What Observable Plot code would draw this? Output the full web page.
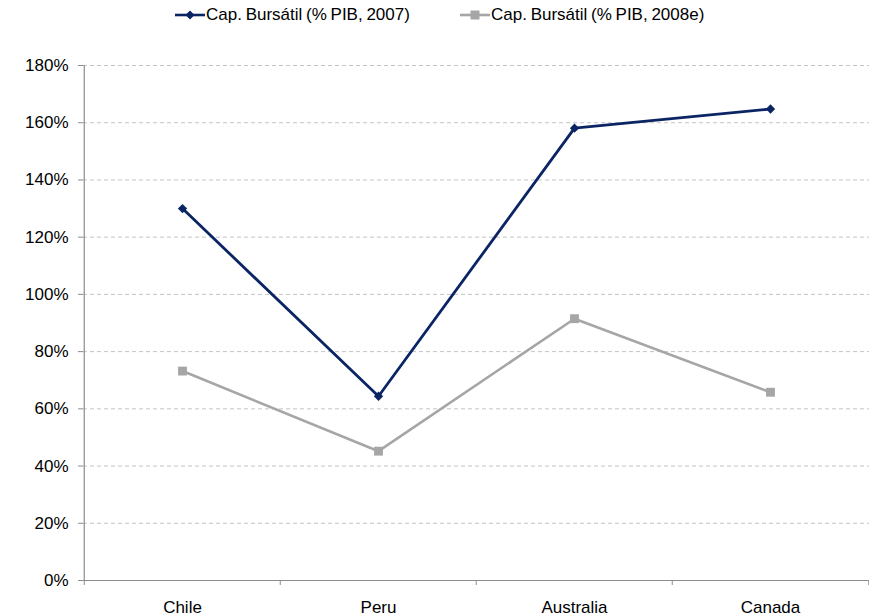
<!DOCTYPE html>
<html>
<head>
<meta charset="utf-8">
<script src="https://cdn.jsdelivr.net/npm/d3@7"></script>
<script src="https://cdn.jsdelivr.net/npm/@observablehq/plot@0.6"></script>
<style>
  html, body { margin: 0; padding: 0; background: #fff; }
  body { width: 869px; height: 616px; overflow: hidden; font-family: "Liberation Sans", Arial, sans-serif; }
  #legend { height: 30px; position: relative; font-size: 17px; color: #000; }
  .item { position: absolute; top: 0; height: 30px; display: flex; align-items: center; word-spacing: -1px; white-space: nowrap; }
  .item svg { display: block; }
  #chart svg { display: block; overflow: visible; }
</style>
</head>
<body>
<div id="legend"></div>
<div id="chart"></div>
<script>
const categories = ["Chile", "Peru", "Australia", "Canada"];
const cap2007 = [130, 64.4, 158.1, 164.8];
const cap2008e = [73.2, 45.2, 91.5, 65.8];
const seriesNames = ["Cap. Bursátil (% PIB, 2007)", "Cap. Bursátil (% PIB, 2008e)"];
const yTicks = [0, 20, 40, 60, 80, 100, 120, 140, 160, 180];

const navy = "#0b2464";
const gray = "#a6a6a6";
const axisColor = "#8c8c8c";

const diamond = {
  draw(ctx, size) {
    const s = Math.sqrt(size / 2);
    ctx.moveTo(0, -s); ctx.lineTo(s, 0); ctx.lineTo(0, s); ctx.lineTo(-s, 0); ctx.closePath();
  }
};

const data = [
  ...categories.map((c, i) => ({cat: c, value: cap2007[i], series: seriesNames[0]})),
  ...categories.map((c, i) => ({cat: c, value: cap2008e[i], series: seriesNames[1]}))
];
const s07 = data.filter(d => d.series === seriesNames[0]);
const s08 = data.filter(d => d.series === seriesNames[1]);

const W = 869, mL = 83, mR = 0;
const step = (W - mL - mR) / categories.length;

const chart = Plot.plot({
  width: W,
  height: 586,
  marginTop: 35,
  marginBottom: 36,
  marginLeft: mL,
  marginRight: mR,
  style: {fontFamily: "'Liberation Sans', Arial, sans-serif", fontSize: "17px", color: "#000", background: "#fff"},
  x: {domain: categories, type: "band", padding: 0},
  y: {domain: [0, 180]},
  marks: [
    Plot.gridY(yTicks.filter(t => t > 0), {stroke: "#c4c4c4", strokeOpacity: 1, strokeDasharray: "4,3", strokeWidth: 1}),
    Plot.axisY({ticks: yTicks, tickSize: 5, tickPadding: 10, tickFormat: d => d + "%", stroke: axisColor, fill: "#000", label: null, fontSize: 17}),
    Plot.axisX({tickSize: 0, tickPadding: 20, label: null, fill: "#000", fontSize: 17}),
    Plot.ruleY([0], {stroke: axisColor, strokeWidth: 1.2}),
    Plot.ruleX([categories[0]], {x: d => d, dx: -step / 2, y1: 0, y2: yTicks[yTicks.length - 1], stroke: axisColor, strokeWidth: 1.2}),
    Plot.ruleX(categories, {x: d => d, dx: -step / 2, y1: 0, y2: 0, insetBottom: -5, stroke: axisColor}),
    Plot.ruleX([categories[categories.length - 1]], {x: d => d, dx: step / 2, y1: 0, y2: 0, insetBottom: -5, stroke: axisColor}),
    Plot.line(s08, {x: "cat", y: "value", stroke: gray, strokeWidth: 2.6}),
    Plot.dot(s08, {x: "cat", y: "value", symbol: "square", r: 5, fill: gray, stroke: "none"}),
    Plot.line(s07, {x: "cat", y: "value", stroke: navy, strokeWidth: 2.8}),
    Plot.dot(s07, {x: "cat", y: "value", symbol: diamond, r: 3.7, fill: navy, stroke: "none"})
  ]
});
document.getElementById("chart").appendChild(chart);

// Legend
const legend = document.getElementById("legend");
const items = [
  {name: seriesNames[0], color: navy, marker: "diamond", left: 175},
  {name: seriesNames[1], color: gray, marker: "square", left: 460}
];
for (const it of items) {
  const div = document.createElement("div");
  div.className = "item";
  div.style.left = it.left + "px";
  const ns = "http://www.w3.org/2000/svg";
  const sw = document.createElementNS(ns, "svg");
  sw.setAttribute("width", 30); sw.setAttribute("height", 12);
  const ln = document.createElementNS(ns, "line");
  ln.setAttribute("x1", 0); ln.setAttribute("x2", 30); ln.setAttribute("y1", 6); ln.setAttribute("y2", 6);
  ln.setAttribute("stroke", it.color); ln.setAttribute("stroke-width", 2.6);
  sw.appendChild(ln);
  if (it.marker === "diamond") {
    const p = document.createElementNS(ns, "path");
    p.setAttribute("d", "M15,1.5L19.5,6L15,10.5L10.5,6Z");
    p.setAttribute("fill", it.color);
    sw.appendChild(p);
  } else {
    const r = document.createElementNS(ns, "rect");
    r.setAttribute("x", 10.5); r.setAttribute("y", 1.5); r.setAttribute("width", 9); r.setAttribute("height", 9);
    r.setAttribute("fill", it.color);
    sw.appendChild(r);
  }
  div.appendChild(sw);
  const span = document.createElement("span");
  span.textContent = it.name;
  span.style.marginLeft = "1px";
  div.appendChild(span);
  legend.appendChild(div);
}
</script>
</body>
</html>
